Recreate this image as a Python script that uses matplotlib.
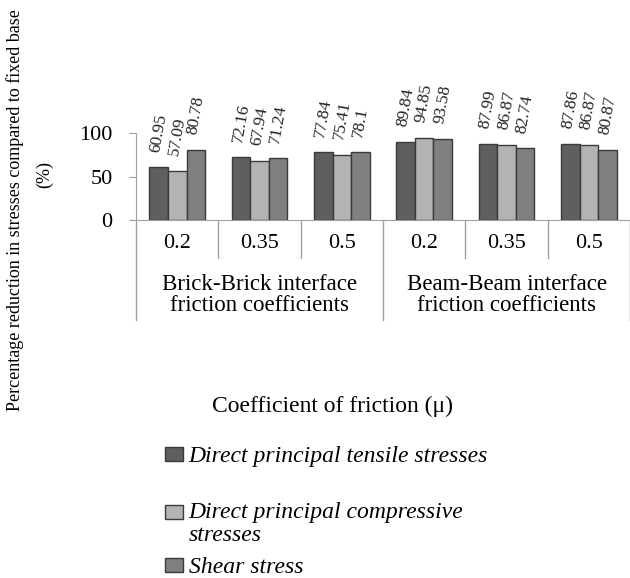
import matplotlib
matplotlib.use("Agg")
import matplotlib.pyplot as plt
import matplotlib.transforms as mtransforms
import numpy as np

plt.rcParams['font.family'] = ['Liberation Serif', 'DejaVu Serif']

categories = ["0.2", "0.35", "0.5", "0.2", "0.35", "0.5"]
groups = ["Brick-Brick interface\nfriction coefficients", "Beam-Beam interface\nfriction coefficients"]
series_names = ["Direct principal tensile stresses",
                " \nDirect principal compressive\nstresses",
                "Shear stress"]
tensile = [60.95, 72.16, 77.84, 89.84, 87.99, 87.86]
compressive = [57.09, 67.94, 75.41, 94.85, 86.87, 86.87]
shear = [80.78, 71.24, 78.1, 93.58, 82.74, 80.87]
label_text = [["60.95", "72.16", "77.84", "89.84", "87.99", "87.86"],
              ["57.09", "67.94", "75.41", "94.85", "86.87", "86.87"],
              ["80.78", "71.24", "78.1", "93.58", "82.74", "80.87"]]
colors = ["#5f5f5f", "#b3b3b3", "#808080"]

fig = plt.figure(figsize=(6.3, 5.78), dpi=100)
ax = fig.add_axes([0.216, 0.619, 0.784, 0.381])

x = np.arange(len(categories))
w = 0.225
handles = []
for i, (vals, col) in enumerate(zip([tensile, compressive, shear], colors)):
    pos = x + (i - 1) * w
    b = ax.bar(pos, vals, width=w, color=col, edgecolor="#3a3a3a", linewidth=1.0, zorder=3)
    handles.append(b)
    for px_, v, t in zip(pos, vals, label_text[i]):
        ax.annotate(t, xy=(px_, v), xytext=(0, 10), textcoords="offset points",
                    ha="center", va="bottom", rotation=80, fontsize=12.5, color="#222222")

ax.set_xlim(-0.5, 5.5)
ax.set_ylim(0, 253)
ax.set_yticks([0, 50, 100])
ax.set_yticklabels(["0", "50", "100"], fontsize=16)
ax.tick_params(axis="y", direction="out", length=5, color="#a0a0a0", pad=12)
ax.set_xticks(x)
ax.set_xticklabels(categories, fontsize=16)
ax.tick_params(axis="x", length=0, pad=10)

for s in ["top", "right"]:
    ax.spines[s].set_visible(False)
ax.spines["left"].set_bounds(0, 100)
ax.spines["left"].set_color("#a0a0a0")
ax.spines["bottom"].set_color("#a0a0a0")

trans = mtransforms.blended_transform_factory(ax.transData, ax.transAxes)
for xv in [0.5, 1.5, 3.5, 4.5]:
    ax.plot([xv, xv], [0, -0.173], transform=trans, color="#a0a0a0", lw=1, clip_on=False)
for xv in [-0.5, 2.5, 5.5]:
    ax.plot([xv, xv], [0, -0.455], transform=trans, color="#a0a0a0", lw=1, clip_on=False)

for gx, g in zip([1, 4], groups):
    ax.text(gx, -0.34, g, transform=trans, ha="center", va="center", fontsize=16.5,
            linespacing=1.0)

fig.text(333 / 630, 1 - 406 / 578, "Coefficient of friction (\u03bc)", ha="center", va="center",
         fontsize=17)
fig.text(15 / 630, 1 - 210 / 578,
         "Percentage reduction in stresses compared to fixed base",
         rotation=90, ha="center", va="center", fontsize=13)
fig.text(45 / 630, 1 - 175 / 578, "(%)",
         rotation=90, ha="center", va="center", fontsize=13)

leg = fig.legend(handles, series_names, loc="upper left",
                 bbox_to_anchor=(165 / 630, 1 - 446 / 578), frameon=False,
                 prop={"style": "italic", "size": 17}, handlelength=0.75, handleheight=0.55,
                 handletextpad=0.25, labelspacing=0.5, borderpad=0, borderaxespad=0)
for t in leg.get_texts():
    t.set_linespacing(1.12)

fig.savefig("out.png", dpi=100)
